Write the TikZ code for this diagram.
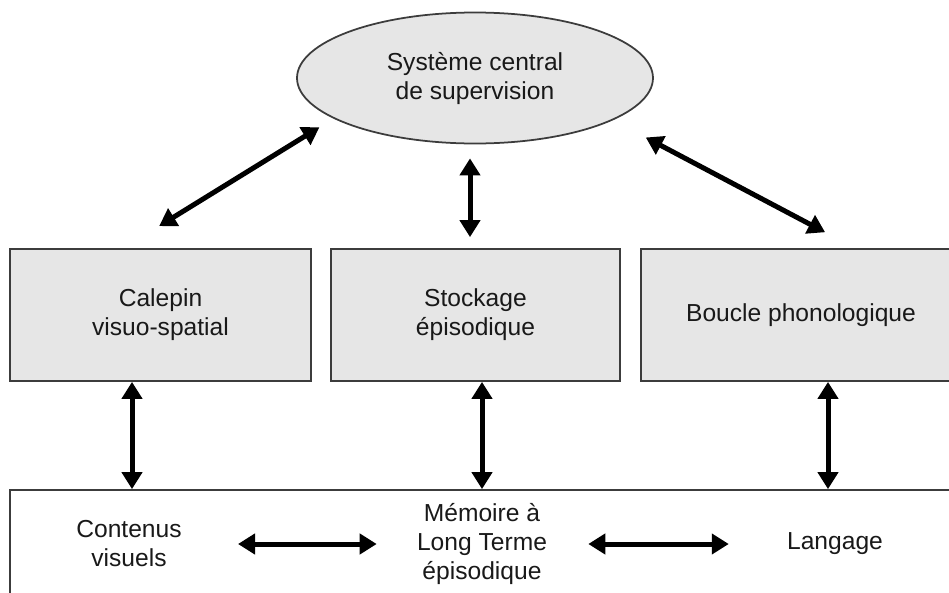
\documentclass[tikz,border=0pt]{standalone}
\usepackage{fontspec}
\setmainfont{Liberation Sans}
\usetikzlibrary{shapes.geometric, arrows.meta, calc}

\definecolor{boxgray}{HTML}{E6E6E6}
\definecolor{edgegray}{HTML}{3C3C3C}

\begin{document}
\begin{tikzpicture}[
    font=\fontsize{14}{16.5}\selectfont,
    module/.style={rectangle,draw=edgegray,line width=1pt,fill=boxgray,minimum height=2.64cm,inner sep=0pt,align=center,text=black!90},
    txt/.style={inner sep=0pt,align=center,text=black!90},
    dbl/.style={{Triangle[length=0.34cm,width=0.4cm]}-{Triangle[length=0.34cm,width=0.4cm]},line width=0.1cm}
]
    \useasboundingbox (0,0) rectangle (18.98,-11.86);

    % Systeme central
    \node[ellipse,draw=edgegray,line width=1pt,fill=boxgray,minimum width=7.12cm,minimum height=2.62cm,inner sep=0pt,align=center,text=black!90] (centre) at (9.5,-1.56) {Système central\\de supervision};

    % Sous-systemes
    \node[module,minimum width=6.02cm] (calepin) at (3.21,-6.3) {Calepin\\visuo-spatial};
    \node[module,minimum width=5.78cm] (stockage) at (9.51,-6.3) {Stockage\\épisodique};
    \node[module,minimum width=6.4cm] (boucle) at (16.02,-6.3) {Boucle phonologique};

    % Memoire a long terme
    \node[rectangle,draw=edgegray,line width=1pt,minimum width=19cm,minimum height=2.2cm] (mlt) at (9.7,-10.9) {};
    \node[txt] (contenus) at (2.58,-10.88) {Contenus\\visuels};
    \node[txt] (memoire) at (9.64,-10.88) {Mémoire à\\Long Terme\\épisodique};
    \node[txt] (langage) at (16.7,-10.88) {Langage};

    % Fleches
    \draw[dbl,shorten <=0.33cm,shorten >=0.84cm] (centre.196) -- (calepin.119);
    \draw[dbl,shorten <=0.28cm,shorten >=0.22cm] ([xshift=-0.1cm]centre.south) -- ([xshift=-0.1cm]centre.south |- stockage.north);
    \draw[dbl,shorten <=0.74cm,shorten >=0.68cm] (centre.343) -- (boucle.51);

    \draw[dbl] ([xshift=-0.57cm]calepin.south) -- ([xshift=-0.57cm]calepin.south |- mlt.north);
    \draw[dbl] ([xshift=0.13cm]stockage.south) -- ([xshift=0.13cm]stockage.south |- mlt.north);
    \draw[dbl] ([xshift=0.54cm]boucle.south) -- ([xshift=0.54cm]boucle.south |- mlt.north);

    \draw[dbl,shorten <=1.12cm,shorten >=0.8cm] (contenus.east) -- (memoire.west);
    \draw[dbl,shorten <=0.82cm,shorten >=1.16cm] (memoire.east) -- (langage.west);
\end{tikzpicture}
\end{document}
